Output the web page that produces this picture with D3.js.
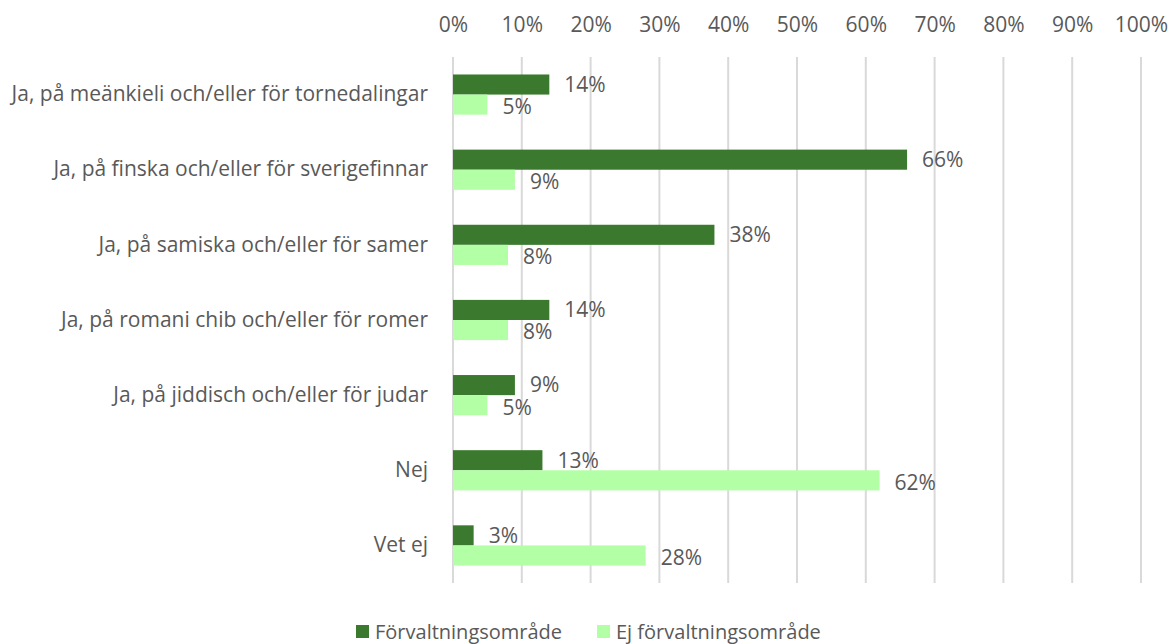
<!DOCTYPE html>
<html><head><meta charset="utf-8">
<script src="https://cdn.jsdelivr.net/npm/d3@7"></script>
<style>body{margin:0;background:#fff}svg{display:block}</style>
</head><body>
<script>
const categories = ["Ja, på meänkieli och/eller för tornedalingar","Ja, på finska och/eller för sverigefinnar","Ja, på samiska och/eller för samer","Ja, på romani chib och/eller för romer","Ja, på jiddisch och/eller för judar","Nej","Vet ej"];
const seriesNames = ["Förvaltningsområde","Ej förvaltningsområde"];
const forvaltning = [14,66,38,14,9,13,3];
const ejForvaltning = [5,9,8,8,5,62,28];
const tickValues = [0,10,20,30,40,50,60,70,80,90,100];

const W=1171,H=644;
const font="'Open Sans', 'Noto Sans', sans-serif";
const fs="21px";
const txt="#595959";
const colors=["#3B7A2E","#B3FFA6"];
const svg=d3.select("body").append("svg").attr("width",W).attr("height",H).style("font-family",font);

const x=d3.scaleLinear().domain([0,100]).range([453,1141]);
const y=d3.scaleBand().domain(categories).range([57,583]).paddingInner(0.465).paddingOuter(0.2325);
const y2=d3.scaleBand().domain([0,1]).range([0,y.bandwidth()]);

svg.append("g").selectAll("line").data(tickValues).join("line")
 .attr("x1",d=>x(d)).attr("x2",d=>x(d)).attr("y1",57).attr("y2",583)
 .attr("stroke","#d9d9d9").attr("stroke-width",2);

const ax=d3.axisTop(x).tickValues(tickValues).tickFormat(d=>d+"%").tickSize(0).tickPadding(0);
const axg=svg.append("g").attr("transform","translate(0,25)").call(ax);
axg.select(".domain").remove();
axg.selectAll("text").attr("dy","0.35em").attr("fill",txt).style("font-size",fs).style("font-family",font);

const ay=d3.axisLeft(y).tickSize(0).tickPadding(0);
const ayg=svg.append("g").attr("transform","translate(428,0)").call(ay);
ayg.select(".domain").remove();
ayg.selectAll("text").attr("fill",txt).style("font-size",fs).style("font-family",font);

const series=[forvaltning,ejForvaltning];
series.forEach((vals,si)=>{
  const g=svg.append("g");
  g.selectAll("rect").data(vals).join("rect")
   .attr("x",x(0)).attr("y",(d,i)=>y(categories[i])+y2(si))
   .attr("width",d=>x(d)-x(0)).attr("height",y2.bandwidth())
   .attr("fill",colors[si]);
  g.selectAll("text").data(vals).join("text")
   .attr("x",d=>x(d)+15).attr("y",(d,i)=>y(categories[i])+y2(si)+y2.bandwidth()/2+(si?2:0))
   .attr("dy","0.35em").attr("fill",txt).style("font-size",fs).text(d=>d+"%");
});

const leg=svg.append("g");
const legX=[356,597];
seriesNames.forEach((n,i)=>{
  leg.append("rect").attr("x",legX[i]).attr("y",625).attr("width",13).attr("height",13).attr("fill",colors[i]);
  leg.append("text").attr("x",legX[i]+19).attr("y",632).attr("dy","0.35em").attr("fill",txt).style("font-size","20px").text(n);
});
</script>
</body></html>
